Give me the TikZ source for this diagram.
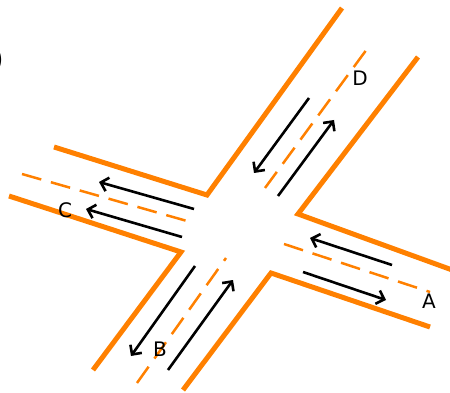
\documentclass[tikz,border=0pt]{standalone}
\usepackage{fontspec}
\setmainfont{DejaVu Sans}
\definecolor{RoadOrange}{HTML}{FF8000}
\usetikzlibrary{arrows.meta}

\begin{document}
\begin{tikzpicture}[x=1pt, y=-1pt,
    road/.style={draw=RoadOrange, line width=5pt},
    lane/.style={draw=RoadOrange, line width=2.5pt, dash pattern=on 20pt off 10pt},
    flow/.style={draw=black, line width=2.6pt, -{Straight Barb[length=7pt, width=14pt]}},
    lbl/.style={font=\fontsize{20}{24}\selectfont}]
  \useasboundingbox (0,0) rectangle (450,393);
  % Kerbs
  \draw[road] (54,147) -- (207,195) -- (342,8);
  \draw[road] (9,196) -- (181,252) -- (93,370);
  \draw[road] (183,390) -- (271,273) -- (430,327);
  \draw[road] (418,57) -- (298,214) -- (455,271);
  % Centre lines
  \draw[lane] (22,174) -- (194,223);
  \draw[lane] (284,244) -- (430,292);
  \draw[lane] (137,383) -- (226,258);
  \draw[lane] (265,188) -- (367,49);
  % Traffic flows
  \draw[flow] (194,209) -- (99,182);
  \draw[flow] (182,237) -- (86,209);
  \draw[flow] (392,265) -- (310,238);
  \draw[flow] (303,272) -- (386,300);
  \draw[flow] (195,266) -- (131,356);
  \draw[flow] (168,370) -- (233,280);
  \draw[flow] (309,98) -- (254,173);
  \draw[flow] (278,196) -- (334,120);
  % Approach labels
  \node[lbl] (labelA) at (429,301) {A};
  \node[lbl] (labelB) at (160,349) {B};
  \node[lbl] (labelC) at (65,210) {C};
  \node[lbl] (labelD) at (360,78) {D};
  \node[anchor=east, inner sep=0pt, font=\fontsize{30}{36}\selectfont] (panel) at (4,60) {)};
\end{tikzpicture}
\end{document}
